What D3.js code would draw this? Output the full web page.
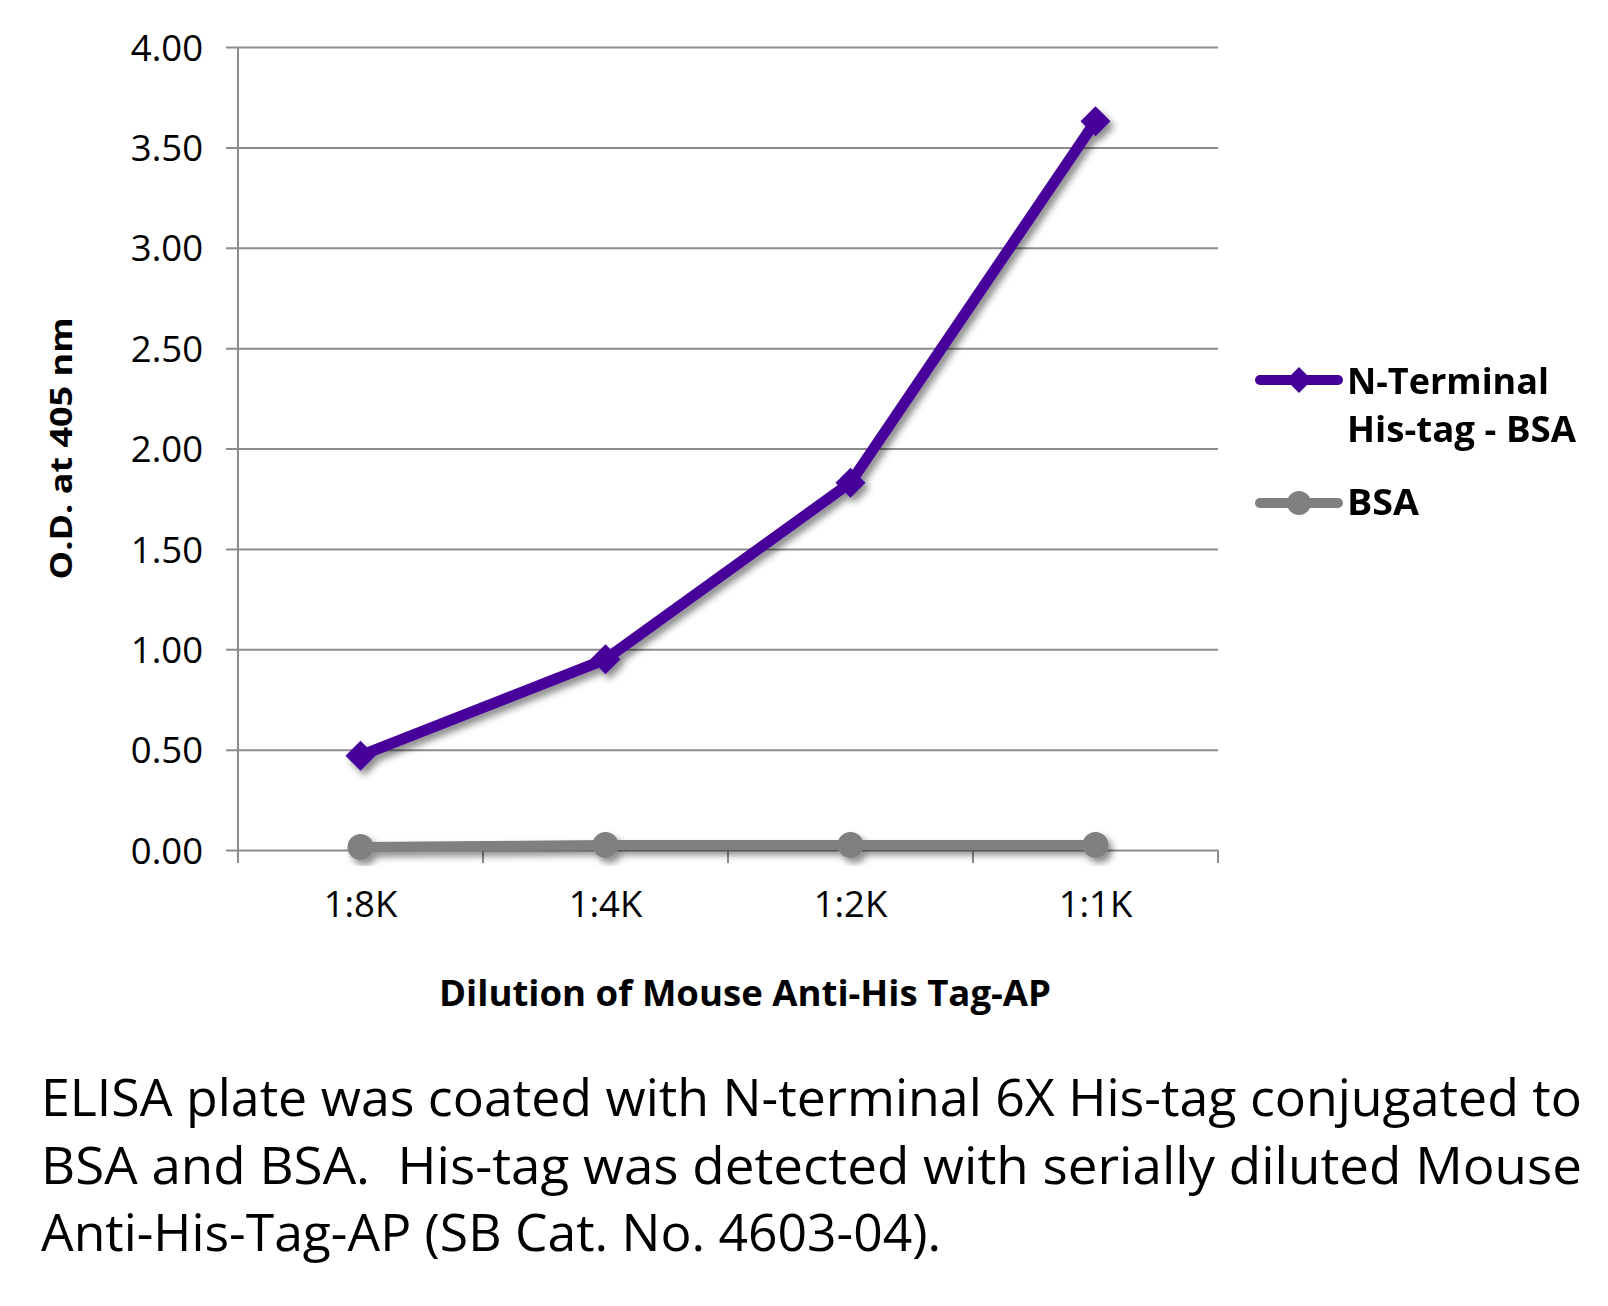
<!DOCTYPE html>
<html><head><meta charset="utf-8">
<script src="https://cdn.jsdelivr.net/npm/d3@7"></script>
<style>
html,body{margin:0;padding:0;background:#fff;}
svg{display:block;}
text{white-space:pre;}
</style></head>
<body>
<script>
const categories = ["1:8K", "1:4K", "1:2K", "1:1K"];
const nTerminalValues = [0.47, 0.95, 1.83, 3.63];
const bsaValues = [0.015, 0.025, 0.025, 0.025];
const yTicks = [0, 0.5, 1, 1.5, 2, 2.5, 3, 3.5, 4];
const seriesNames = [["N-Terminal", "His-tag - BSA"], ["BSA"]];
const yTitle = "O.D. at 405 nm";
const xTitle = "Dilution of Mouse Anti-His Tag-AP";
const captionLines = [
  "ELISA plate was coated with N-terminal 6X His-tag conjugated to",
  "BSA and BSA.  His-tag was detected with serially diluted Mouse",
  "Anti-His-Tag-AP (SB Cat. No. 4603-04)."
];

(function () {
const W = 1608, H = 1306;
const pLeft = 238, pRight = 1218, pTop = 47, pBottom = 850;
const gridColor = "#8c8c8c";
const purple = "#46009a";
const gray = "#808080";

const svg = d3.select("body").append("svg").attr("width", W).attr("height", H);
const defs = svg.append("defs");
const f = defs.append("filter").attr("id", "shadow").attr("x", "-20%").attr("y", "-20%").attr("width", "140%").attr("height", "140%");
f.append("feDropShadow").attr("dx", 4).attr("dy", 5).attr("stdDeviation", 3.5)
  .attr("flood-color", "#000").attr("flood-opacity", 0.45);

const x = d3.scaleBand().domain(categories).range([pLeft, pRight]);
const y = d3.scaleLinear().domain([0, 4]).range([pBottom, pTop]);

const yAxis = d3.axisLeft(y).tickValues(yTicks).tickFormat(d3.format(".2f"))
  .tickSize(-(pRight - pLeft)).tickPadding(35);
const gy = svg.append("g").attr("transform", `translate(${pLeft},0)`).call(yAxis);
gy.select(".domain").remove();
gy.selectAll(".tick line").attr("x1", -12).attr("stroke", gridColor).attr("stroke-width", 2);
gy.selectAll(".tick text").attr("font-family", "'Open Sans', sans-serif").attr("font-size", 36.5)
  .attr("fill", "#000").attr("dy", "0.36em");
svg.append("line").attr("x1", pLeft).attr("x2", pLeft).attr("y1", pTop).attr("y2", pBottom + 13)
  .attr("stroke", gridColor).attr("stroke-width", 2);

const boundaries = categories.map(c => x(c)).concat([pRight]);
svg.append("g").selectAll("line").data(boundaries).join("line")
  .attr("x1", d => d).attr("x2", d => d).attr("y1", pBottom).attr("y2", pBottom + 13)
  .attr("stroke", gridColor).attr("stroke-width", 2);
svg.append("g").selectAll("text").data(categories).join("text")
  .attr("x", d => x(d) + x.bandwidth() / 2).attr("y", 917)
  .attr("text-anchor", "middle").attr("font-family", "'Open Sans', sans-serif")
  .attr("font-size", 36.5).text(d => d);

svg.append("text").attr("transform", `translate(72,${(pTop + pBottom) / 2}) rotate(-90)`)
  .attr("text-anchor", "middle").attr("font-family", "'Open Sans', sans-serif")
  .attr("font-weight", "bold").attr("font-size", 31)
  .attr("textLength", 262).attr("lengthAdjust", "spacingAndGlyphs").text(yTitle);
svg.append("text").attr("x", 745).attr("y", 1006)
  .attr("text-anchor", "middle").attr("font-family", "'Open Sans', sans-serif")
  .attr("font-weight", "bold").attr("font-size", 36)
  .attr("textLength", 612).attr("lengthAdjust", "spacingAndGlyphs").text(xTitle);

const line = d3.line().x(d => x(d.c) + x.bandwidth() / 2).y(d => y(d.v));
const diamond = (s) => `M0,${-s}L${s},0L0,${s}L${-s},0Z`;

const bsaData = categories.map((c, i) => ({c, v: bsaValues[i]}));
const ntData = categories.map((c, i) => ({c, v: nTerminalValues[i]}));

const gB = svg.append("g").attr("filter", "url(#shadow)");
gB.append("path").datum(bsaData).attr("d", line).attr("fill", "none")
  .attr("stroke", gray).attr("stroke-width", 10).attr("stroke-linejoin", "round");
gB.selectAll("circle").data(bsaData).join("circle")
  .attr("cx", d => x(d.c) + x.bandwidth() / 2).attr("cy", d => y(d.v)).attr("r", 13).attr("fill", gray);

const gN = svg.append("g").attr("filter", "url(#shadow)");
gN.append("path").datum(ntData).attr("d", line).attr("fill", "none")
  .attr("stroke", purple).attr("stroke-width", 11).attr("stroke-linejoin", "round");
gN.selectAll("path.m").data(ntData).join("path").attr("class", "m")
  .attr("transform", d => `translate(${x(d.c) + x.bandwidth() / 2},${y(d.v)})`)
  .attr("d", diamond(15)).attr("fill", purple);

const lg = svg.append("g");
lg.append("line").attr("x1", 1260).attr("x2", 1338).attr("y1", 380).attr("y2", 380)
  .attr("stroke", purple).attr("stroke-width", 10).attr("stroke-linecap", "round");
lg.append("path").attr("transform", "translate(1299,380)").attr("d", diamond(13)).attr("fill", purple);
lg.append("line").attr("x1", 1260).attr("x2", 1338).attr("y1", 503).attr("y2", 503)
  .attr("stroke", gray).attr("stroke-width", 10).attr("stroke-linecap", "round");
lg.append("circle").attr("cx", 1299).attr("cy", 503).attr("r", 12).attr("fill", gray);
const legendY = [[394, 442], [515]];
const legendW = [[202, 229], [72]];
seriesNames.forEach((lines, i) => lines.forEach((t, j) => {
  lg.append("text").attr("x", 1347).attr("y", legendY[i][j])
    .attr("font-family", "'Open Sans', sans-serif").attr("font-weight", "bold").attr("font-size", 36)
    .attr("textLength", legendW[i][j]).attr("lengthAdjust", "spacingAndGlyphs").text(t);
}));

const capY = [1116, 1184, 1251];
const capW = [1541, 1541, 900];
svg.append("g").selectAll("text").data(captionLines).join("text")
  .attr("x", 41).attr("y", (d, i) => capY[i])
  .attr("font-family", "'Open Sans', sans-serif").attr("font-size", 52)
  .attr("textLength", (d, i) => capW[i]).attr("lengthAdjust", "spacingAndGlyphs")
  .text(d => d);
})();
</script>
</body></html>
